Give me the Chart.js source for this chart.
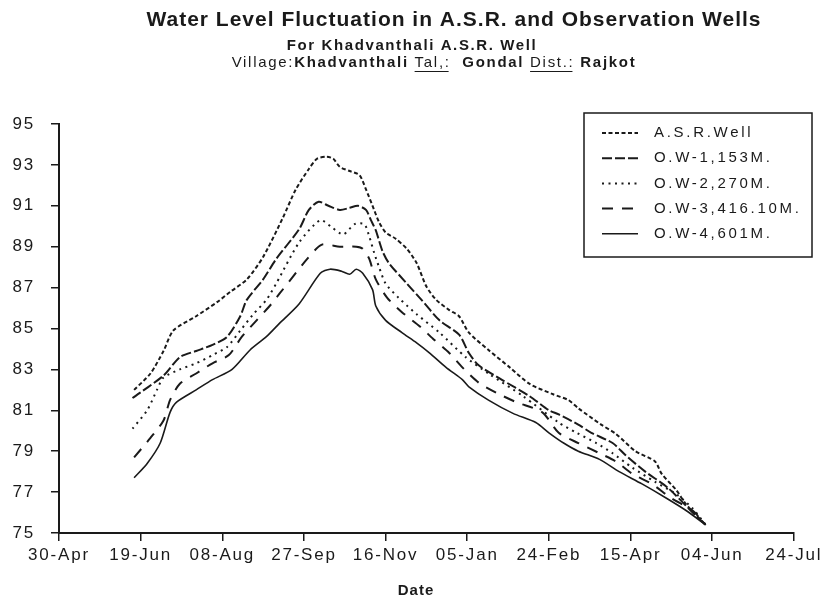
<!DOCTYPE html>
<html>
<head>
<meta charset="utf-8">
<script src="https://cdn.jsdelivr.net/npm/chart.js@4/dist/chart.umd.min.js"></script>
<style>
  html, body { margin: 0; padding: 0; background: #fff; }
  #wrap { width: 821px; height: 608px; position: relative; }
</style>
</head>
<body>
<div id="wrap"><canvas id="c" width="821" height="608"></canvas></div>
<script>
// ---- Data (days counted from 30-Apr; values = water level) ----
const xTickLabels = ['30-Apr','19-Jun','08-Aug','27-Sep','16-Nov','05-Jan','24-Feb','15-Apr','04-Jun','24-Jul'];
const yTicks = [75,77,79,81,83,85,87,89,91,93,95];

const seriesNames = ['A.S.R.Well','O.W-1,153M.','O.W-2,270M.','O.W-3,416.10M.','O.W-4,601M.'];

const asrDays  = [46,56,64,70,84,97,105,115,125,137,145,153,158,164,168,172,178,184,188,192,196,200,206,213,219,225,231,239,245,251,263,276,288,302,312,318,332,341,353,365,369,378,384,396];
const asrLevel = [82.0,82.8,83.9,84.9,85.6,86.3,86.8,87.4,88.5,90.4,91.8,92.8,93.3,93.4,93.3,92.9,92.7,92.5,91.8,91.0,90.2,89.7,89.4,88.9,88.2,87.05,86.4,85.9,85.6,84.8,83.95,83.1,82.3,81.8,81.5,81.1,80.3,79.85,79.0,78.5,77.9,77.1,76.4,75.4];

const ow1Days  = [45,64,74,84,94,103,111,115,125,133,147,153,159,165,172,178,183,188,191,194,198,202,213,222,233,245,251,257,271,288,300,306,318,326,339,347,359,373,388,396];
const ow1Level = [81.6,82.7,83.6,83.9,84.2,84.6,85.6,86.4,87.4,88.4,89.85,90.8,91.2,91.0,90.8,90.9,91.0,90.8,90.3,89.8,88.8,88.2,87.2,86.4,85.4,84.7,83.8,83.2,82.5,81.7,81.0,80.8,80.3,79.9,79.4,78.8,78.0,77.2,76.0,75.4];

const ow2Days  = [45,54,60,64,74,84,94,103,111,119,127,133,147,160,167,174,181,187,190,193,196,200,208,219,233,249,263,284,306,317,329,339,351,365,378,388,396];
const ow2Level = [80.1,81.0,82.0,82.6,83.0,83.3,83.7,84.1,84.9,85.7,86.4,87.2,89.2,90.3,89.95,89.6,90.1,90.1,89.5,88.7,88.0,87.2,86.5,85.7,84.8,83.6,82.8,81.7,80.4,79.9,79.4,78.9,78.2,77.5,76.9,76.2,75.4];

const ow3Days  = [46,56,64,68,74,84,94,104,112,121,129,135,152,161,172,182,186,190,194,201,210,221,229,239,247,257,268,280,296,306,318,331,341,351,363,375,388,396];
const ow3Level = [78.7,79.65,80.5,81.5,82.3,82.8,83.3,83.7,84.6,85.4,86.1,86.7,88.4,89.1,89.0,89.0,88.9,88.4,87.4,86.5,85.8,85.1,84.5,83.8,83.1,82.35,81.85,81.4,80.9,79.9,79.4,78.9,78.5,77.9,77.4,76.7,76.1,75.4];

const ow4Days  = [46,54,62,68,72,84,94,106,117,127,135,147,160,166,173,178,182,186,192,194,200,210,219,227,237,247,251,263,278,292,300,309,318,331,343,357,372,384,396];
const ow4Level = [77.7,78.4,79.4,80.9,81.4,82.0,82.5,83.0,83.95,84.6,85.25,86.2,87.7,87.9,87.8,87.65,87.9,87.7,86.9,86.1,85.4,84.8,84.3,83.8,83.1,82.5,82.15,81.5,80.85,80.4,79.9,79.4,79.0,78.6,78.0,77.4,76.7,76.1,75.4];

// ---- styles ----
const FONT = '"Liberation Sans", Arial, sans-serif';
const styles = [
  {dash:[4,2.5], width:2},
  {dash:[10,3], width:2},
  {dash:[2,4.5], width:2},
  {dash:[11,9], width:2},
  {dash:[], width:1.6}
];
const allDays = [asrDays, ow1Days, ow2Days, ow3Days, ow4Days];
const allLevels = [asrLevel, ow1Level, ow2Level, ow3Level, ow4Level];

const datasets = seriesNames.map((name, i) => ({
  label: name,
  data: allDays[i].map((d, k) => ({x: d, y: allLevels[i][k]})),
  borderColor: '#1a1a1a',
  borderWidth: styles[i].width,
  borderDash: styles[i].dash,
  pointRadius: 0,
  tension: 0.25,
  fill: false
}));

const spacingPlugin = {
  id: 'spacing',
  beforeDraw(chart) { chart.ctx.letterSpacing = '1.8px'; }
};

const titlePlugin = {
  id: 'titles',
  afterDraw(chart) {
    const ctx = chart.ctx;
    ctx.save();
    ctx.fillStyle = '#1a1a1a';
    ctx.textBaseline = 'middle';
    ctx.textAlign = 'center';
    ctx.letterSpacing = '1px';
    ctx.font = 'bold 21px ' + FONT;
    ctx.fillText('Water Level Fluctuation in A.S.R. and Observation Wells', 454, 20);
    ctx.letterSpacing = '1.6px';
    ctx.font = 'bold 15px ' + FONT;
    ctx.fillText('For Khadvanthali A.S.R. Well', 412, 46);
    // mixed line
    const segs = [
      {t:'Village:', b:false, u:false},
      {t:'Khadvanthali', b:true, u:false},
      {t:' ', b:false, u:false},
      {t:'Tal,:', b:false, u:true},
      {t:'  ', b:false, u:false},
      {t:'Gondal', b:true, u:false},
      {t:' ', b:false, u:false},
      {t:'Dist.:', b:false, u:true},
      {t:' ', b:false, u:false},
      {t:'Rajkot', b:true, u:false}
    ];
    ctx.textAlign = 'left';
    ctx.letterSpacing = '1.7px';
    let total = 0;
    segs.forEach(s => { ctx.font = (s.b ? 'bold ' : '') + '15px ' + FONT; s.w = ctx.measureText(s.t).width; total += s.w; });
    let x = 434 - total / 2;
    const y = 63;
    segs.forEach(s => {
      ctx.font = (s.b ? 'bold ' : '') + '15px ' + FONT;
      ctx.fillText(s.t, x, y);
      if (s.u) {
        ctx.beginPath(); ctx.lineWidth = 1; ctx.strokeStyle = '#1a1a1a';
        ctx.moveTo(x, y + 8.5); ctx.lineTo(x + s.w - 2, y + 8.5); ctx.stroke();
      }
      x += s.w;
    });
    // axis title
    ctx.textAlign = 'center';
    ctx.letterSpacing = '1px';
    ctx.font = 'bold 15px ' + FONT;
    ctx.fillText('Date', 416, 591);
    ctx.restore();
  }
};

const legendPlugin = {
  id: 'boxLegend',
  afterDraw(chart) {
    const ctx = chart.ctx;
    ctx.save();
    ctx.strokeStyle = '#1a1a1a';
    ctx.lineWidth = 1.5;
    ctx.strokeRect(584, 113, 228, 144);
    ctx.font = '15px ' + FONT;
    ctx.letterSpacing = '2.7px';
    ctx.fillStyle = '#1a1a1a';
    ctx.textBaseline = 'middle';
    chart.data.datasets.forEach((ds, i) => {
      const y = 133 + i * 25.2;
      ctx.beginPath();
      ctx.setLineDash(ds.borderDash);
      ctx.lineWidth = ds.borderWidth;
      ctx.moveTo(602, y); ctx.lineTo(638, y);
      ctx.stroke();
      ctx.setLineDash([]);
      ctx.fillText(ds.label, 654, y);
    });
    ctx.restore();
  }
};

new Chart(document.getElementById('c'), {
  type: 'line',
  data: { datasets },
  options: {
    responsive: false,
    animation: false,
    layout: { padding: { left: 0, right: 26, top: 124, bottom: 0 } },
    plugins: { legend: { display: false }, title: { display: false }, tooltip: { enabled: false } },
    scales: {
      x: {
        type: 'linear',
        min: 0, max: 450,
        afterFit(s) { s.height = 75; },
        afterBuildTicks(s) { s.ticks = xTickLabels.map((_, i) => ({ value: i * 50 })); },
        ticks: {
          callback: (v) => xTickLabels[Math.round(v / 50)],
          color: '#1a1a1a',
          font: { family: FONT, size: 17 },
          padding: 4,
          maxRotation: 0,
          autoSkip: false
        },
        grid: { display: true, drawOnChartArea: false, drawTicks: true, tickLength: 8, color: '#1a1a1a', lineWidth: 1.5 },
        border: { display: true, color: '#1a1a1a', width: 2 }
      },
      y: {
        min: 75, max: 95,
        afterFit(s) { s.width = 59; },
        afterBuildTicks(s) { s.ticks = yTicks.map(v => ({ value: v })); },
        ticks: {
          color: '#1a1a1a',
          font: { family: FONT, size: 17 },
          padding: 16
        },
        grid: { display: true, drawOnChartArea: false, drawTicks: true, tickLength: 8, color: '#1a1a1a', lineWidth: 1.5 },
        border: { display: true, color: '#1a1a1a', width: 2 }
      }
    }
  },
  plugins: [spacingPlugin, titlePlugin, legendPlugin]
});
</script>
</body>
</html>
